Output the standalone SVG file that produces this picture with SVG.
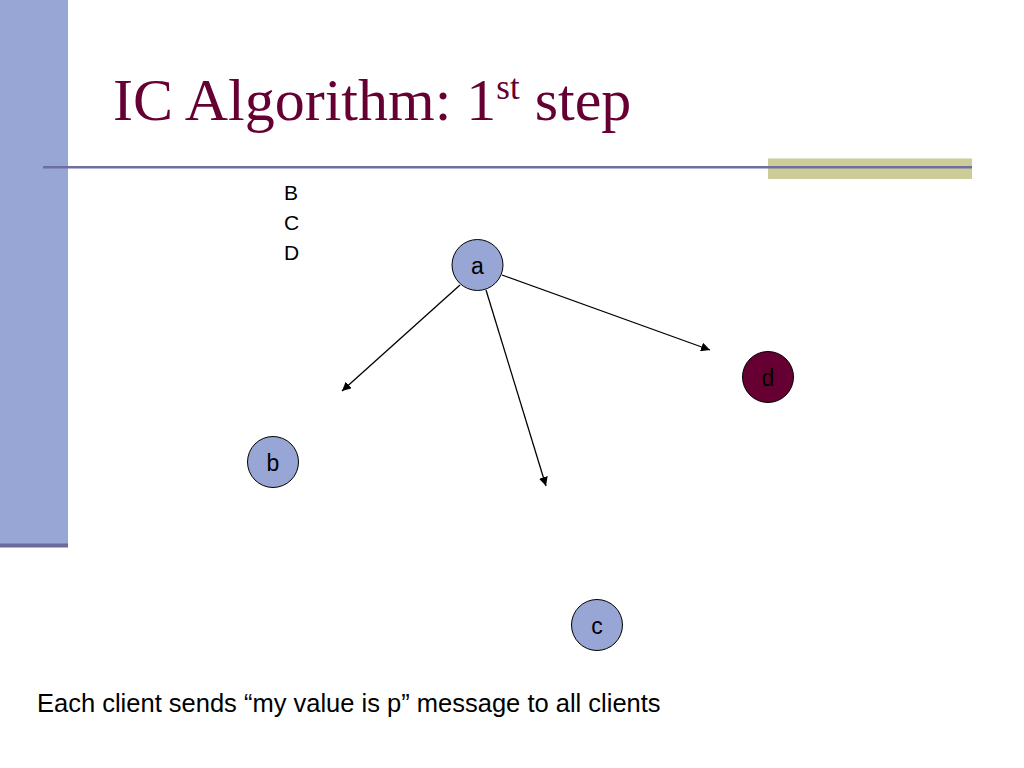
<svg xmlns="http://www.w3.org/2000/svg" width="1024" height="768" viewBox="0 0 1024 768">
<defs>
<marker id="arr" viewBox="0 0 10 10" refX="10" refY="5" markerWidth="9" markerHeight="9" markerUnits="userSpaceOnUse" orient="auto">
<path d="M0,0 L10,5 L0,10 z" fill="#000"/>
</marker>
</defs>
<style>
.node{fill:#97A6D4;stroke:#000;stroke-width:1}
.lbl{font-family:"Liberation Sans",Arial,sans-serif;font-size:23px;fill:#000;text-anchor:middle}
.conn{stroke:#000;stroke-width:1.3;fill:none;marker-end:url(#arr)}
.txt{font-family:"Liberation Sans",Arial,sans-serif;fill:#000}
</style>
<rect width="1024" height="768" fill="#fff"/>
<rect x="0" y="0" width="68" height="545" fill="#97A6D4"/>
<rect x="0" y="543.5" width="68" height="4" fill="#6B6B99"/>
<rect x="768" y="158.5" width="204" height="20.5" fill="#CCCC99"/>
<rect x="43" y="166" width="929" height="2.5" fill="#6F6F9F"/>
<text x="113" y="120" font-family="'Liberation Serif','Times New Roman',serif" font-size="60" fill="#660033">IC Algorithm: 1<tspan font-size="35" dy="-21">st</tspan><tspan dy="21"> step</tspan></text>
<g id="list" class="txt" font-size="21">
<text x="284" y="200">B</text>
<text x="284" y="230">C</text>
<text x="284" y="260">D</text>
</g>
<g id="connectors">
<line class="conn" x1="460" y1="285" x2="342" y2="391"/>
<line class="conn" x1="486" y1="290" x2="546" y2="486"/>
<line class="conn" x1="502" y1="275" x2="710" y2="350"/>
</g>
<g id="node-a"><circle class="node" cx="477.5" cy="265" r="25.5"/><text class="lbl" x="477.5" y="274">a</text></g>
<g id="node-b"><circle class="node" cx="273" cy="462" r="25.5"/><text class="lbl" x="273" y="471">b</text></g>
<g id="node-c"><circle class="node" cx="597" cy="625" r="25.5"/><text class="lbl" x="597" y="634">c</text></g>
<g id="node-d"><circle cx="768" cy="377" r="25.5" fill="#660033" stroke="#000" stroke-width="1"/><text class="lbl" x="768" y="386" fill="#1a0010">d</text></g>
<text class="txt" x="37" y="712" font-size="25.5">Each client sends “my value is p” message to all clients</text>
</svg>
